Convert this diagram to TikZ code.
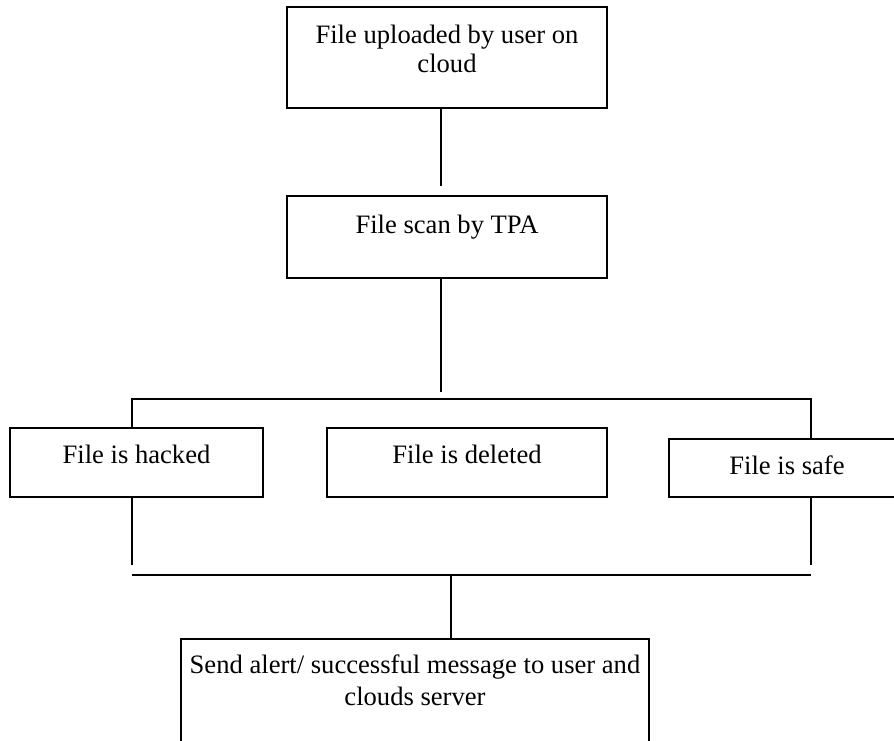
\documentclass[tikz,border=0pt]{standalone}
\usepackage{fontspec}
\setmainfont{Liberation Serif}
\usepackage{tikz}
\usetikzlibrary{
    positioning,                      % right=of, below=of, etc.
    calc                              % aritmetica de coordenadas
}
\tikzset{
    block/.style={
        rectangle, draw, line width=0.65pt,
        align=center, inner sep=0pt, anchor=base,
        font=\fontsize{13.3}{15}\selectfont
    },
    link/.style={
        line width=0.65pt
    }
}

\begin{document}
\begin{tikzpicture}[x=0.5pt, y=-0.5pt]

        % Marco (894 x 740)
        \useasboundingbox (0,0) rectangle (894,740);
        \clip (0,0) rectangle (894,740);

        % Cajas principales
        \node[block, minimum width=160pt, text height=32.5pt, text depth=18pt,
              font=\fontsize{13.3}{14.5}\selectfont]
            (upload) at (447,72) {File uploaded by user on\\cloud};
        \node[block, minimum width=160pt, text height=18.5pt, text depth=22.5pt]
            (scan) at (447,233) {File scan by TPA};

        % Resultados del escaneo
        \node[block, minimum width=126.5pt, text height=17.5pt, text depth=17pt]
            (hacked) at (136.5,463) {File is hacked};
        \node[block, minimum width=140pt, text height=17.5pt, text depth=17pt]
            (deleted) at (467,463) {File is deleted};
        \node[block, minimum width=118pt, text height=17.5pt, text depth=11.5pt]
            (safe) at (787,474) {File is safe};

        % Mensaje final
        \node[block, minimum width=234pt, text height=33pt, text depth=44pt,
              font=\fontsize{13.3}{16}\selectfont]
            (send) at (415,705) {Send alert/ successful message to user and\\clouds server};

        % Puntos libres de las lineas
        \coordinate (b1) at (441,186);
        \coordinate (b2) at (441,392);
        \coordinate (busL) at (132,399);
        \coordinate (busR) at (811,399);
        \coordinate (lowL) at (132,565);
        \coordinate (lowR) at (811,565);
        \coordinate (sumL) at (132,575);
        \coordinate (sumR) at (811,575);
        \coordinate (drop) at (451,575);

        % Conexiones
        \draw[link] (upload.south -| b1) -- (b1);
        \draw[link] (scan.south -| b2) -- (b2);
        \draw[link] (busL |- hacked.north) -- (busL) -- (busR) -- (busR |- safe.north);
        \draw[link] (hacked.south -| lowL) -- (lowL);
        \draw[link] (safe.south -| lowR) -- (lowR);
        \draw[link] (sumL) -- (sumR);
        \draw[link] (drop) -- (drop |- send.north);

    \end{tikzpicture}
\end{document}
